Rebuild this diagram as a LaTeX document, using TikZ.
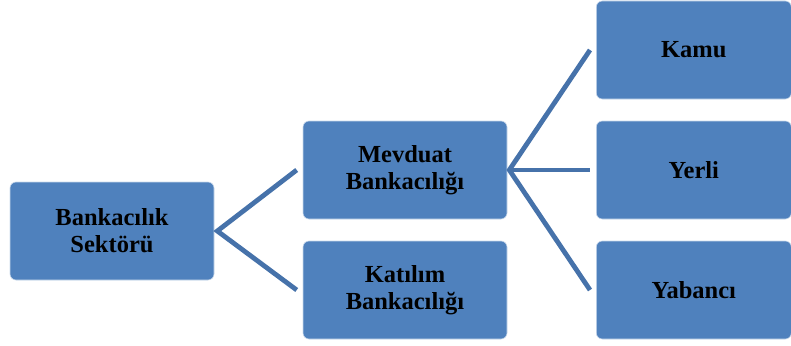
\documentclass[tikz,border=0pt]{standalone}
\usepackage{fontspec}
\setmainfont{Liberation Serif}
\definecolor{boxblue}{HTML}{4F81BD}
\definecolor{lineblue}{HTML}{4672AA}
\begin{document}
\begin{tikzpicture}[x=1pt,y=-1pt,
  box/.style={draw=white!70!boxblue, line width=0.6pt, fill=boxblue, rounded corners=6pt,
    minimum width=204pt, minimum height=98pt, align=center, inner sep=2pt,
    font=\fontsize{24.5}{27}\selectfont\bfseries, text=black},
  smallbox/.style={box, minimum width=195pt},
  conn/.style={lineblue, line width=4.8pt}]
\useasboundingbox (0,0) rectangle (791,345);
\node[box] (root) at (112,231) {Bankacılık\\Sektörü};
\node[box] (mev) at (405,170) {Mevduat\\Bankacılığı};
\node[box] (kat) at (405,290) {Katılım\\Bankacılığı};
\node[smallbox,anchor=west] (kamu) at (596,50) {Kamu};
\node[smallbox,anchor=west] (yerli) at (596,170) {Yerli};
\node[smallbox,anchor=west] (yab) at (596,290) {Yabancı};
\coordinate (r1) at ([xshift=3pt]root.east);
\coordinate (m1) at ([xshift=2pt]mev.east);
\coordinate (mevin) at ([xshift=-6pt]mev.west);
\coordinate (katin) at ([xshift=-6pt]kat.west);
\coordinate (kamuin) at ([xshift=-6pt]kamu.west);
\coordinate (yerliin) at ([xshift=-6pt]yerli.west);
\coordinate (yabin) at ([xshift=-6pt]yab.west);
\draw[conn] (mevin) -- (r1) -- (katin);
\draw[conn] (kamuin) -- (m1) -- (yabin);
\draw[conn] (m1) -- (yerliin);
\end{tikzpicture}
\end{document}
